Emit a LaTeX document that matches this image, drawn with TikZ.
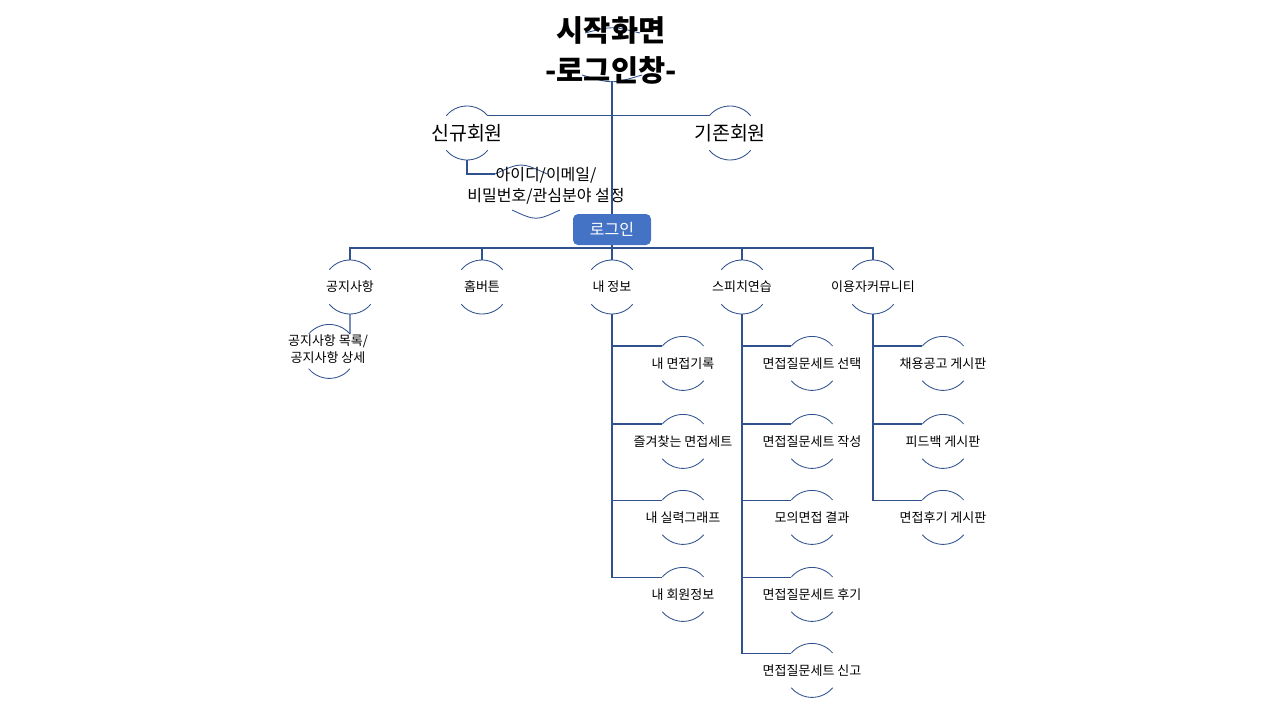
\documentclass[tikz,border=0pt]{standalone}
\usepackage{fontspec}
\setmainfont{Noto Sans CJK KR}
\usetikzlibrary{calc}
\definecolor{linkblue}{RGB}{47,82,143}
\definecolor{boxblue}{RGB}{68,114,196}

% A menu item: text inside a circle of which only the top and bottom arcs are drawn.
% #1 name, #2 x, #3 y, #4 text style, #5 text
\newcommand\bubble[5]{%
  \coordinate (#1) at (#2,#3);
  \coordinate (#1-t) at ($(#1)+(270:27)$);
  \coordinate (#1-b) at ($(#1)+(90:27)$);
  \coordinate (#1-tl) at ($(#1)+(220:27)$);
  \coordinate (#1-tr) at ($(#1)+(320:27)$);
  \draw[rim] (#1-tl) arc[start angle=220,end angle=320,radius=27];
  \draw[rim] ($(#1)+(40:27)$) arc[start angle=40,end angle=140,radius=27];
  \node[#4] (#1-txt) at (#1) {#5};
}

\begin{document}
\begin{tikzpicture}[x=1pt,y=-1pt,
  conn/.style={draw=linkblue,line width=1.1pt},
  rim/.style={draw=linkblue,line width=0.85pt},
  titletext/.style={font=\fontsize{29.5}{32}\selectfont\bfseries,inner sep=0},
  bigtext/.style={font=\fontsize{19.5}{22}\selectfont,inner sep=0},
  midtext/.style={font=\fontsize{16}{21}\selectfont,inner sep=0,align=center},
  smalltext/.style={font=\fontsize{13}{17}\selectfont,inner sep=0,align=center},
  loginbox/.style={fill=boxblue,rounded corners=5pt,minimum width=78pt,
    minimum height=31pt,text=white,font=\fontsize{16}{18}\selectfont,inner sep=0}]
\useasboundingbox (0,0) rectangle (1280,720);

% start screen title with its flat arcs
\draw[rim] (585,33) .. controls (612,26) .. (640,33);
\draw[rim] (582,75) .. controls (612,84) .. (642,75);
\coordinate (title-b) at (612,81);
\node[titletext] (title1) at (611,30) {시작화면};
\node[titletext] (title2) at (611,70) {-로그인창-};

% sign-up / existing member
\bubble{new}{467}{133}{bigtext}{신규회원}
\bubble{old}{730}{133}{bigtext}{기존회원}

% sign-up details
\draw[rim] (495,174) .. controls (521,162) .. (547,174);
\draw[rim] (512,210) .. controls (536,221) .. (560,210);
\coordinate (idset-l) at (495,174);
\node[midtext] (idset) at (546,186) {아이디/이메일/\\비밀번호/관심분야 설정};

% login
\node[loginbox] (login) at (612,229.5) {로그인};
\coordinate (bus) at (0,248);

% main menu
\bubble{notice}{350}{287}{smalltext}{공지사항}
\bubble{home}{482}{287}{smalltext}{홈버튼}
\bubble{myinfo}{612}{287}{smalltext}{내 정보}
\bubble{speech}{742}{287}{smalltext}{스피치연습}
\bubble{commu}{873}{287}{smalltext}{이용자커뮤니티}

% sub menus
\bubble{nlist}{329.3}{351.4}{smalltext}{}
\node[smalltext] (nlist-text) at (328,349) {공지사항 목록/\\공지사항 상세};

\bubble{my1}{683}{363.4}{smalltext}{내 면접기록}
\bubble{my2}{683}{441.4}{smalltext}{즐겨찾는 면접세트}
\bubble{my3}{683}{517.4}{smalltext}{내 실력그래프}
\bubble{my4}{683}{594.4}{smalltext}{내 회원정보}

\bubble{sp1}{812}{363.4}{smalltext}{면접질문세트 선택}
\bubble{sp2}{812}{441.4}{smalltext}{면접질문세트 작성}
\bubble{sp3}{812}{517.4}{smalltext}{모의면접 결과}
\bubble{sp4}{812}{594.4}{smalltext}{면접질문세트 후기}
\bubble{sp5}{812}{670.4}{smalltext}{면접질문세트 신고}

\bubble{cm1}{943}{363.4}{smalltext}{채용공고 게시판}
\bubble{cm2}{943}{441.4}{smalltext}{피드백 게시판}
\bubble{cm3}{943}{517.4}{smalltext}{면접후기 게시판}

% connectors
\draw[conn] (title-b) -- (login.north);
\draw[conn] (new-tr) -- (old-tl);
\draw[conn] (new-b) |- (idset-l);
\foreach \n in {notice,home,myinfo,speech,commu}
  \draw[conn] (login.south) -- (login.south |- bus) -| (\n-t);
\draw[conn] (notice-b) -- (nlist-tr);
\foreach \c in {my1,my2,my3,my4}
  \draw[conn] (myinfo-b) |- (\c-tl);
\foreach \c in {sp1,sp2,sp3,sp4,sp5}
  \draw[conn] (speech-b) |- (\c-tl);
\foreach \c in {cm1,cm2,cm3}
  \draw[conn] (commu-b) |- (\c-tl);
\end{tikzpicture}
\end{document}
